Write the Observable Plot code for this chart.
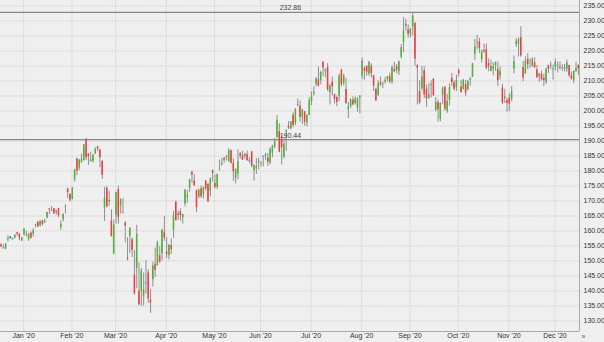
<!DOCTYPE html>
<html><head><meta charset="utf-8">
<script src="https://cdn.jsdelivr.net/npm/d3@7"></script>
<script src="https://cdn.jsdelivr.net/npm/@observablehq/plot@0.6"></script>
<style>html,body{margin:0;padding:0;background:#efefef;}#chart{width:604px;height:342px;overflow:hidden}</style>
</head><body><div id="chart"></div>
<script>
// Daily OHLC, 17 Dec 2019 .. 15 Dec 2020 (one entry per trading day)
const open=[
155.45,154.30,154.00,157.35,158.12,157.48,157.56,159.45,158.99,156.77,
158.78,158.32,157.08,159.32,158.93,161.84,162.82,161.76,163.39,162.62,164.35,167.42,166.68,167.40,166.19,167.51,161.15,163.78,167.84,174.05,172.21,
170.43,177.14,184.03,180.97,182.85,183.58,190.65,185.58,183.08,183.25,185.61,188.06,186.95,183.17,167.77,174.20,169.71,163.32,152.41,
165.31,173.80,168.49,166.05,162.61,151.00,158.16,157.13,145.30,147.50,140.00,140.00,138.00,142.77,146.00,137.01,143.75,148.91,148.40,151.75,152.44,159.40,
153.00,151.86,155.10,160.32,169.59,165.67,166.36,164.35,169.00,171.20,174.30,179.50,176.63,173.50,171.39,174.11,172.06,176.59,175.59,173.22,180.00,
175.80,174.49,180.62,182.08,184.17,184.98,183.15,186.80,182.55,177.54,179.06,185.75,185.03,184.81,185.40,183.45,186.34,180.20,180.74,182.73,
182.54,184.81,184.82,184.30,182.62,185.94,188.00,191.13,193.13,190.54,184.58,193.05,195.03,194.00,198.59,195.79,202.09,201.60,197.80,199.73,196.00,198.51,
203.14,205.68,208.83,210.45,210.07,216.33,213.62,214.48,206.13,209.56,205.40,204.47,205.00,213.66,209.20,207.19,200.42,201.47,203.61,202.50,201.00,204.40,
211.52,214.17,214.90,212.34,214.85,211.67,207.16,205.29,209.44,208.76,209.60,210.53,211.49,209.54,213.86,214.79,213.10,217.88,222.89,228.18,227.00,
225.51,227.97,229.27,215.10,206.50,207.60,213.40,207.20,204.24,208.42,210.62,200.05,202.80,197.19,205.06,207.90,199.85,203.55,210.88,209.35,207.73,
213.49,208.00,207.22,208.82,207.06,210.51,211.23,218.79,222.72,223.00,217.10,220.15,220.42,215.80,213.12,213.93,215.03,213.85,211.59,207.67,204.07,203.50,
204.29,203.89,214.02,222.04,222.26,224.45,214.50,212.39,217.21,216.36,214.87,216.10,213.65,211.38,212.20,210.95,209.59,215.11,214.85,214.10,
214.51,214.88,214.61,214.22,214.37,213.97,215.16,211.77,210.05,213.10,215.17];
const high=[
155.71,155.41,155.77,158.49,158.12,157.71,158.73,159.55,159.02,157.77,
160.73,159.95,159.10,159.67,160.80,162.22,163.22,163.31,163.60,163.94,166.24,167.47,168.19,167.49,166.80,167.53,163.38,165.76,168.75,174.05,172.40,
174.50,180.64,184.20,183.82,185.63,188.84,190.70,185.85,186.23,185.41,187.70,188.18,187.25,183.50,174.55,174.84,173.26,167.03,163.71,
172.92,175.00,170.70,170.87,163.11,157.75,161.03,157.70,153.47,161.91,149.35,147.50,146.00,150.15,147.10,140.57,149.60,154.33,156.66,154.89,160.60,164.78,
157.75,155.48,157.38,166.50,170.00,166.67,167.37,165.57,173.75,173.57,177.28,180.00,178.75,173.67,174.00,175.06,174.56,176.90,175.67,177.68,180.40,
178.64,179.00,183.65,184.20,184.55,185.00,187.51,187.04,184.05,180.69,187.06,186.20,186.60,185.85,186.67,184.46,186.50,181.99,184.15,184.27,
183.00,185.00,185.94,185.84,187.73,188.55,190.89,198.52,195.76,191.72,190.82,193.64,196.52,196.49,199.39,200.76,203.95,203.25,200.61,199.89,198.78,204.40,
206.35,208.04,211.13,214.67,213.26,216.38,214.08,215.80,208.85,211.33,205.70,205.04,212.30,213.94,212.30,210.92,202.86,203.97,204.70,204.65,204.46,205.10,
217.64,214.77,215.00,216.37,215.70,211.88,207.65,210.05,211.35,209.59,211.19,211.36,212.59,215.00,216.25,215.52,216.61,222.09,231.15,230.64,228.70,
227.45,232.86,229.31,215.42,210.03,214.84,214.74,208.63,209.20,210.00,210.76,204.43,203.65,202.71,208.10,208.10,205.57,209.04,212.57,210.07,211.98,
213.99,210.19,210.41,210.18,210.11,211.19,215.86,223.86,225.21,224.22,220.36,222.29,222.30,217.37,216.92,216.06,216.28,216.34,214.67,208.84,207.24,204.29,
205.70,208.12,218.32,224.12,224.36,228.12,216.50,218.04,219.10,217.42,217.74,217.68,215.17,212.46,213.29,212.29,214.25,215.29,216.27,215.32,
217.32,216.38,216.38,215.38,215.54,216.95,215.23,213.08,213.32,216.21,215.39];
const low=[
154.45,154.22,153.75,156.29,157.27,157.12,157.40,158.22,156.73,156.45,
158.33,158.06,156.51,157.32,157.95,161.03,161.18,161.26,161.72,162.57,164.03,165.43,166.43,165.68,165.27,164.45,160.20,163.07,165.69,170.79,169.58,
170.40,176.31,178.41,180.06,182.48,183.25,183.50,181.85,182.87,182.65,185.50,186.47,181.10,177.25,163.23,167.65,168.21,157.98,152.00,
162.31,162.26,165.62,165.69,156.00,150.00,152.58,151.15,138.58,140.73,135.00,135.00,135.02,139.00,135.86,132.52,141.27,144.44,148.37,149.20,150.01,156.56,
150.82,150.36,152.19,157.58,163.26,163.50,163.33,162.30,168.00,169.24,172.90,175.87,174.99,166.11,170.82,170.91,170.71,173.30,169.39,171.38,176.23,
174.01,173.80,179.90,181.63,182.58,183.36,182.85,182.30,176.54,175.68,177.00,183.96,183.49,183.94,183.29,182.54,181.10,176.60,178.89,180.41,
181.46,181.35,183.58,181.56,182.01,184.44,187.37,191.01,186.07,182.01,184.01,186.56,193.86,193.82,194.37,195.23,201.43,196.36,195.47,194.88,194.72,198.45,
201.77,205.00,208.09,207.99,208.69,211.47,211.08,206.50,202.03,205.03,202.31,201.39,203.01,208.03,208.39,202.15,197.51,200.86,201.74,202.01,199.57,199.01,
210.44,210.31,211.57,211.55,210.93,206.52,203.14,204.80,208.15,207.51,208.92,209.66,209.09,208.91,212.85,212.43,211.83,217.36,219.40,226.58,224.31,
224.43,224.99,214.96,202.00,202.20,206.70,204.15,201.24,203.90,204.36,204.93,199.79,196.25,196.38,202.08,200.03,199.20,201.68,208.06,206.72,206.54,
211.32,205.94,206.98,204.82,206.72,208.32,211.23,216.81,220.43,219.13,216.01,219.32,213.72,213.09,213.12,211.70,213.16,208.10,210.33,202.10,202.47,199.62,
199.83,203.12,212.42,221.15,218.03,217.88,209.72,212.20,213.76,214.16,214.52,214.08,210.83,209.51,210.00,208.16,208.86,212.46,214.04,210.29,
213.35,212.67,213.65,213.18,212.99,212.89,211.21,210.36,209.11,212.88,211.90];
const close=[
154.69,154.37,155.71,157.41,157.41,157.38,158.67,158.96,157.59,157.70,
160.62,158.62,159.03,157.58,160.09,162.09,161.34,163.28,162.13,163.18,166.17,167.10,166.50,165.70,166.72,165.04,162.28,165.46,168.04,172.78,170.23,
174.38,180.12,179.90,183.63,183.89,188.70,184.44,184.71,183.71,185.35,187.23,187.28,184.42,178.59,170.89,168.07,170.17,158.18,162.01,
172.79,164.51,170.55,166.27,161.57,150.62,160.92,153.63,139.06,158.83,135.42,146.57,140.40,142.71,137.35,135.98,148.34,146.92,156.11,149.70,160.23,157.71,
152.11,155.26,153.83,165.27,163.49,165.13,165.14,165.51,173.70,171.88,177.04,178.60,175.06,167.82,173.52,171.42,174.55,174.05,169.81,177.43,179.21,
174.57,178.84,180.76,182.54,183.60,184.68,186.74,182.51,179.75,180.53,183.16,184.91,183.63,185.66,183.43,183.51,181.57,181.81,181.40,183.25,
182.83,184.91,185.36,182.92,187.20,188.36,189.80,196.84,186.27,187.74,188.94,193.57,194.24,196.32,195.15,200.57,201.91,197.84,200.34,196.33,198.44,203.51,
204.70,206.26,210.70,208.25,212.83,214.32,213.67,207.07,208.35,208.04,203.92,202.88,211.60,208.75,211.75,202.54,201.30,203.85,202.02,204.06,203.90,205.01,
216.54,213.29,212.94,216.35,212.48,208.25,203.38,209.19,208.70,208.90,210.28,211.49,209.70,214.58,213.02,213.69,216.47,221.15,226.58,228.91,225.53,
227.27,231.65,217.30,214.25,202.66,211.29,205.37,204.03,205.41,208.78,205.05,202.91,200.39,202.54,207.42,200.59,203.19,207.82,209.44,207.26,210.33,
212.46,206.19,210.38,205.91,209.83,210.58,215.81,221.40,222.86,220.86,219.66,219.66,214.22,214.65,214.80,214.89,216.23,210.08,213.25,202.68,204.72,202.47,
202.33,206.43,216.39,223.29,223.72,218.39,211.01,216.55,215.44,216.51,217.23,214.46,211.08,212.42,210.39,210.11,213.86,213.87,215.23,214.07,
216.21,215.37,214.24,214.36,214.29,216.01,211.80,210.52,213.26,214.20,214.13];

const monthLabels=["Jan '20","Feb '20","Mar '20","Apr '20","May '20","Jun '20","Jul '20","Aug '20","Sep '20","Oct '20","Nov '20","Dec '20"];
const monthStart=[10,31,50,72,93,113,135,157,178,199,221,241]; // trading-day index of each month's first session
const yTicks=d3.range(130,236,5);
const levels=[232.86,190.44];

const data=open.map((o,i)=>({i,open:o,close:close[i],high:Math.max(high[i],o,close[i]),low:Math.min(low[i],o,close[i])}));
const UP="#52b036", DOWN="#f03c3c", DOJI="#4cc4d2", WICK="#8e8e8e";
const isDoji=d=>Math.abs(d.close-d.open)<0.1;
const col=d=>isDoji(d)?DOJI:(d.close>d.open?UP:DOWN);
const labelOf=new Map(monthStart.map((d,k)=>[d,monthLabels[k]]));

const PX=2.3, X0=0.1, PLOTW=579;
const xDomain=[(0-X0)/PX,(PLOTW-X0)/PX];
const yDomain=[126.5,236.833];

const chart=Plot.plot({
  width:604,height:342,
  marginTop:0,marginLeft:0,marginRight:25,marginBottom:11,
  x:{type:"linear",domain:xDomain},
  y:{type:"linear",domain:yDomain},
  style:{background:"#efefef",fontFamily:"'Liberation Sans', Arial, sans-serif",fontSize:"7px",color:"#333",overflow:"visible"},
  marks:[
    Plot.gridY(yTicks,{stroke:"#d3d3d3",strokeOpacity:1,strokeDasharray:"1.5,1"}),
    Plot.gridX(monthStart,{stroke:"#d3d3d3",strokeOpacity:1,strokeDasharray:"1.5,1"}),
    Plot.ruleY(levels,{stroke:"#888",strokeWidth:1.3}),
    Plot.ruleY([yDomain[0]],{stroke:"#aaa"}),
    Plot.ruleX([xDomain[1]],{stroke:"#aaa"}),
    Plot.ruleX(data,{x:d=>d.i+0.2,y1:"low",y2:"high",stroke:WICK,strokeWidth:1}),
    Plot.rect(data,{x1:d=>d.i+0.05,x2:d=>d.i+0.7,y1:"open",y2:"close",fill:col}),
    Plot.ruleY(data.filter(isDoji),{y:"close",x1:d=>d.i-0.2,x2:d=>d.i+0.9,stroke:DOJI,strokeWidth:1.2}),
    Plot.text(levels,{x:126,y:d=>d,text:d=>d.toFixed(2),dy:-2,lineAnchor:"bottom",fill:"#444",fontSize:7}),
    Plot.axisY(yTicks,{anchor:"right",tickSize:0,tickPadding:4,tickFormat:d=>d.toFixed(2),fill:"#333",label:null,fontSize:7}),
    Plot.axisX(monthStart,{anchor:"bottom",tickSize:0,tickPadding:2,tickFormat:d=>labelOf.get(d),fill:"#333",label:null,fontSize:7}),
    Plot.text(["»"],{frameAnchor:"bottom-right",dx:6,dy:7,fill:"#555",fontSize:7})
  ]
});
document.getElementById("chart").appendChild(chart);
</script></body></html>
